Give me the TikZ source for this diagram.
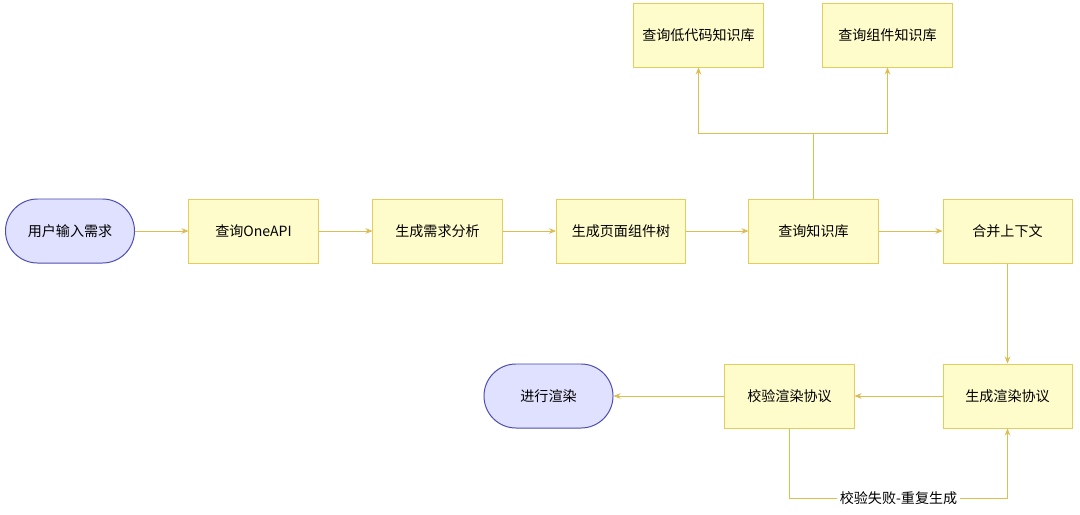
\documentclass[tikz,border=0pt]{standalone}
\usepackage{fontspec}
\setmainfont{Noto Sans CJK SC}
\usetikzlibrary{arrows.meta,positioning}

\begin{document}
\begin{tikzpicture}[
                    x=0.025cm,
                    y=-0.025cm,
                    >={Stealth[length=5pt,width=4pt]},
                    line width=0.7pt,
                    every node/.style={font=\fontsize{10}{12}\selectfont},
                    box/.style={draw=yellow!50!brown!80, fill=yellow!20, minimum width=3.225cm, minimum height=1.6cm, inner sep=0pt},
                    term/.style={box, draw=blue!40!gray, fill=blue!12, rounded corners=0.8cm},
                    flow/.style={->, draw=yellow!40!brown!90}
                ]
                \useasboundingbox (0,0) rectangle (1080,514);
                \node[term] (input) at (70,231) {用户输入需求} ;
                \node[box] (oneapi) at (253.5,231) {查询OneAPI} ;
                \node[box] (analyse) at (437.5,231) {生成需求分析} ;
                \node[box] (tree) at (621,231) {生成页面组件树} ;
                \node[box] (kb) at (813.5,231) {查询知识库} ;
                \node[box] (merge) at (1007.5,231) {合并上下文} ;
                \node[box] (lowcode) at (698.5,35) {查询低代码知识库} ;
                \node[box] (comp) at (887.5,35) {查询组件知识库} ;
                \node[box] (gen) at (1007.5,396) {生成渲染协议} ;
                \node[box] (check) at (789.5,396) {校验渲染协议} ;
                \node[term] (render) at (548.5,396) {进行渲染} ;
                \coordinate (fork) at (813.5,133) ;
                \coordinate (loop-l) at (789.5,498) ;
                \coordinate (loop-r) at (1007.5,498) ;

                \path[flow]
                (input) edge (oneapi)
                (oneapi) edge (analyse)
                (analyse) edge (tree)
                (tree) edge (kb)
                (kb) edge (merge)
                (merge) edge (gen)
                (gen) edge (check)
                (check) edge (render)
                ;
                \draw[flow] (kb.north) -- (fork) -| (lowcode.south) ;
                \draw[flow] (fork) -| (comp.south) ;
                \draw[flow] (check.south) -- (loop-l) -- node[fill=white, inner sep=2pt] {校验失败-重复生成} (loop-r) -- (gen.south) ;
            \end{tikzpicture}
\end{document}
